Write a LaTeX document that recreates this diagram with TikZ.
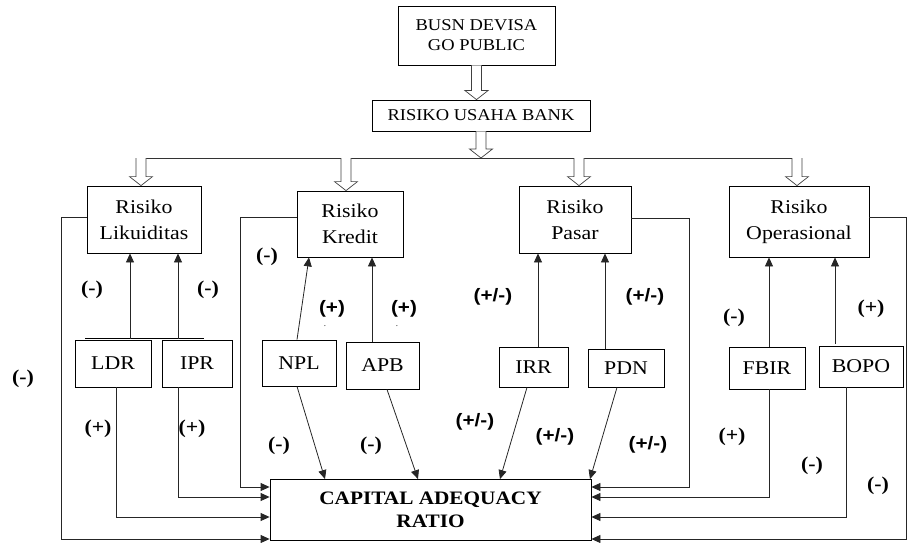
\documentclass[tikz,border=0pt]{standalone}
\usepackage{fontspec}
\setmainfont{Liberation Serif}[FakeStretch=1.12]
\newfontfamily\lsans{Liberation Sans}[FakeStretch=1.15]
\usetikzlibrary{arrows.meta,calc}
\tikzset{
  box/.style={draw=black, line width=0.8pt, inner sep=0pt, align=center},
  bigtxt/.style={font=\fontsize{19.5}{26}\selectfont},
  toptxt/.style={font=\fontsize{16.5}{20}\selectfont},
  arr/.style={draw=black!85, line width=0.8pt, -{Triangle[length=9pt,width=8pt]}},
  hollow/.style={draw=black!75, line width=0.7pt, fill=white},
  slab/.style={font=\bfseries\fontsize{19.5}{19.5}\selectfont},
  sslab/.style={font=\lsans\bfseries\fontsize{18}{18}\selectfont},
}
\newcommand\harrow[2]{%
  \draw[hollow] ($#1+(-5,0)$) -- ($#2+(-5,-9)$) -- ($#2+(-11.5,-9)$) -- #2 -- ($#2+(11.5,-9)$) -- ($#2+(5,-9)$) -- ($#1+(5,0)$);}
\begin{document}
\begin{tikzpicture}[x=1pt,y=-1pt]
\useasboundingbox (0,0) rectangle (908,543);
% boxes
\node[box,toptxt,minimum width=157pt,minimum height=59pt] (busn) at (476.5,35.5) {BUSN DEVISA\\GO PUBLIC};
\node[box,toptxt,minimum width=218pt,minimum height=31pt] (rub) at (481,115.5) {RISIKO USAHA BANK};
\node[box,bigtxt,minimum width=114pt,minimum height=67pt] (likuid) at (144,219.5) {Risiko\\Likuiditas};
\node[box,bigtxt,minimum width=106pt,minimum height=66pt] (kredit) at (350,224) {Risiko\\Kredit};
\node[box,bigtxt,minimum width=112pt,minimum height=67pt] (pasar) at (575,219.5) {Risiko\\Pasar};
\node[box,bigtxt,minimum width=140pt,minimum height=71pt] (operas) at (799,221.5) {Risiko\\Operasional};
\node[box,bigtxt,minimum width=76pt,minimum height=47pt] (ldr) at (113,363.5) {LDR};
\node[box,bigtxt,minimum width=70pt,minimum height=47pt] (ipr) at (197,363.5) {IPR};
\node[box,bigtxt,minimum width=74pt,minimum height=46pt] (npl) at (299,363) {NPL};
\node[box,bigtxt,minimum width=73pt,minimum height=47pt] (apb) at (382.5,365.5) {APB};
\node[box,bigtxt,minimum width=69pt,minimum height=40pt] (irr) at (533.5,367) {IRR};
\node[box,bigtxt,minimum width=76pt,minimum height=38pt] (pdn) at (626,368) {PDN};
\node[box,bigtxt,minimum width=76pt,minimum height=42pt] (fbir) at (767,368) {FBIR};
\node[box,bigtxt,minimum width=84pt,minimum height=41pt] (bopo) at (861,366.5) {BOPO};
\node[box,font=\bfseries\fontsize{19}{23}\selectfont,minimum width=321pt,minimum height=61pt] (car) at (430.5,510) {CAPITAL ADEQUACY\\RATIO};
% bus and hollow arrows
\coordinate (bus) at (0,158);
\coordinate (t1) at ($(likuid.north)+(-3,0)$);
\coordinate (t2) at ($(kredit.north)+(-4,0)$);
\coordinate (t3) at ($(pasar.north)+(4,0)$);
\coordinate (t4) at ($(operas.north)+(-2,0)$);
\draw[draw=black!80, line width=0.8pt] ($(t1 |- bus)+(-5,0)$) -- ($(t4 |- bus)+(5,0)$);
\harrow{(busn.south)}{(busn.south |- rub.north)}
\harrow{(rub.south)}{(rub.south |- bus)}
\harrow{(t1 |- bus)}{(t1)}
\harrow{(t2 |- bus)}{(t2)}
\harrow{(t3 |- bus)}{(t3)}
\harrow{(t4 |- bus)}{(t4)}
% likuiditas
\draw[draw=black, line width=0.9pt] ([xshift=-28,yshift=1]ldr.north) -- ([xshift=7,yshift=1]ipr.north);
\draw[arr] ([xshift=17,yshift=1]ldr.north) -- ([xshift=17]ldr.north |- likuid.south);
\draw[arr] ([xshift=-19,yshift=1]ipr.north) -- ([xshift=-19]ipr.north |- likuid.south);
\draw[arr] ([xshift=3]ldr.south) |- ([yshift=-7]car.west);
\draw[arr] ([xshift=-19]ipr.south) |- ([yshift=13]car.west);
\draw[arr] ([yshift=2.5]likuid.west) -- ++(-25,0) |- ([yshift=-29]car.west);
% kredit
\draw[arr] ([xshift=-2]npl.north) -- ([xshift=-41]kredit.south);
\draw[arr] ([xshift=-10.5]apb.north) -- ([xshift=-10.5]apb.north |- kredit.south);
\draw[arr] ([xshift=-2]npl.south) -- ([xshift=-105.5]car.north);
\draw[arr] ([xshift=4.5]apb.south) -- ([xshift=-12.5]car.north);
\draw[arr] ([yshift=7]kredit.west) -- ++(-56,0) |- ([yshift=23]car.west);
% pasar
\draw[arr] ([xshift=4.5]irr.north) -- ([xshift=4.5]irr.north |- pasar.south);
\draw[arr] ([xshift=-21]pdn.north) -- ([xshift=-21]pdn.north |- pasar.south);
\draw[arr] ([xshift=-6.5]irr.south) -- ([xshift=69.5]car.north);
\draw[arr] ([xshift=-9]pdn.south) -- ([xshift=159.5]car.north);
\draw[arr] ([yshift=1.5]pasar.east) -- ++(58,0) |- ([yshift=23]car.east);
% operasional
\draw[arr] ([xshift=2]fbir.north) -- ([xshift=2]fbir.north |- operas.south);
\draw[arr] ([xshift=-26,yshift=2]bopo.north) -- ([xshift=-26]bopo.north |- operas.south);
\draw[arr] ([xshift=2]fbir.south) |- ([yshift=13]car.east);
\draw[arr] ([xshift=-15]bopo.south) |- ([yshift=-7]car.east);
\draw[arr] ([yshift=4.5]operas.east) -- ++(37,0) |- ([yshift=-29]car.east);
% labels
\node[slab] (a1) at (92,290) {(-)};
\node[slab] (a2) at (208,290) {(-)};
\node[slab] (a3) at (23,379) {(-)};
\node[slab] (a4) at (267,257) {(-)};
\node[sslab] (a5) at (332,309) {(+)};
\node[sslab] (a6) at (404,309) {(+)};
\node[font=\fontsize{8}{8}\selectfont] (d1) at (325,326) {.};
\node[font=\fontsize{8}{8}\selectfont] (d2) at (397,326) {.};
\node[sslab] (a7) at (493,297) {(+/-)};
\node[sslab] (a8) at (645,297) {(+/-)};
\node[slab] (a9) at (734,318) {(-)};
\node[slab] (a10) at (871,309) {(+)};
\node[slab] (a11) at (98,429) {(+)};
\node[slab] (a12) at (192,429) {(+)};
\node[slab] (a13) at (279,446) {(-)};
\node[slab] (a14) at (371,446) {(-)};
\node[sslab] (a15) at (475,422) {(+/-)};
\node[sslab] (a16) at (555,437) {(+/-)};
\node[sslab] (a17) at (648,445) {(+/-)};
\node[slab] (a18) at (732,437) {(+)};
\node[slab] (a19) at (812,466) {(-)};
\node[slab] (a20) at (878,486) {(-)};
\end{tikzpicture}
\end{document}
